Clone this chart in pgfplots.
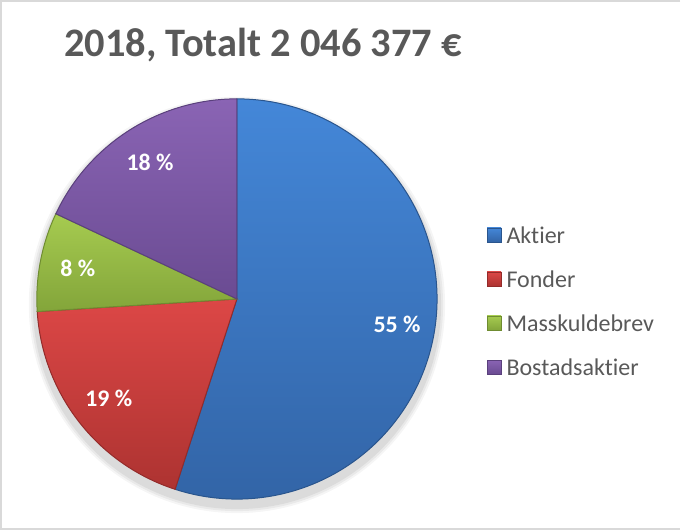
\documentclass[border=0pt]{standalone}
\usepackage{pgfplots}
\pgfplotsset{compat=1.18}
\usepackage{pgfplotstable}
\usepackage{fontspec}
\setmainfont[Ligatures={NoCommon}]{Carlito}

% slice colours, light (top) and dark (bottom) of the gradient
\definecolor{aktT}{HTML}{4487D8}
\definecolor{aktB}{HTML}{3264A6}
\definecolor{fonT}{HTML}{DC4746}
\definecolor{fonB}{HTML}{AD3331}
\definecolor{masT}{HTML}{A6CB50}
\definecolor{masB}{HTML}{83A53A}
\definecolor{bosT}{HTML}{8A64B4}
\definecolor{bosB}{HTML}{6A4B92}
\definecolor{titlegray}{HTML}{595959}
\definecolor{framegray}{HTML}{D9D9D9}

\pgfplotstableread{
label          value  ctop  cbot
Aktier         55     aktT  aktB
Fonder         19     fonT  fonB
Masskuldebrev  8      masT  masB
Bostadsaktier  18     bosT  bosB
}\piedata

\begin{document}
\begin{tikzpicture}
\begin{axis}[
  width=340.5pt, height=266pt, scale only axis,
  xmin=0, xmax=681, ymin=0, ymax=532,
  axis lines=none, clip=false,
]
\pgfplotsextra{
  % chart frame
  \draw[framegray, line width=0.8pt]
    (axis cs:681,530) -- (axis cs:2,530) -- (axis cs:2,2) -- (axis cs:681,2);
  % title
  \node[font=\fontsize{20.2}{24}\selectfont\bfseries, text=titlegray]
    at (axis cs:264,486) {2018, Totalt 2 046 377 €};
  % soft shadow under the pie
  \foreach \k/\op in {4/0.04,3/0.05,2/0.06}{
    \fill[black, opacity=\op] (axis cs:238,226) circle[radius=100pt+\k pt];
  }
  \gdef\cum{0}
  \foreach \i in {0,...,3}{
    \pgfplotstablegetelem{\i}{value}\of\piedata \let\v\pgfplotsretval
    \pgfplotstablegetelem{\i}{label}\of\piedata \let\lab\pgfplotsretval
    \pgfplotstablegetelem{\i}{ctop}\of\piedata \let\ct\pgfplotsretval
    \pgfplotstablegetelem{\i}{cbot}\of\piedata \let\cb\pgfplotsretval
    \pgfmathsetmacro\aS{90-3.6*\cum}
    \pgfmathsetmacro\aE{90-3.6*(\cum+\v)}
    \pgfmathsetmacro\aM{(\aS+\aE)/2}
    \shade[top color=\ct, bottom color=\cb, draw=\cb!85!black, line width=0.5pt]
      (axis cs:238,232) -- ++(\aS:100pt)
      arc[start angle=\aS, end angle=\aE, radius=100pt] -- cycle;
    \path (axis cs:238,232) ++(\aM:81pt)
      node[text=white, font=\fontsize{11.9}{14}\selectfont\bfseries] {\v~\%};
    % legend entry
    \pgfmathsetmacro\ly{296-44*\i}
    \shade[top color=\ct, bottom color=\cb, draw=\cb!85!black, line width=0.3pt]
      (axis cs:488,\ly-7) rectangle (axis cs:502,\ly+7);
    \node[anchor=west, inner sep=0pt, text=titlegray,
          font=\fontsize{12}{14}\selectfont]
      at (axis cs:507,\ly) {\lab};
    \pgfmathsetmacro\n{\cum+\v}\xdef\cum{\n}
  }
}
\end{axis}
\end{tikzpicture}
\end{document}
